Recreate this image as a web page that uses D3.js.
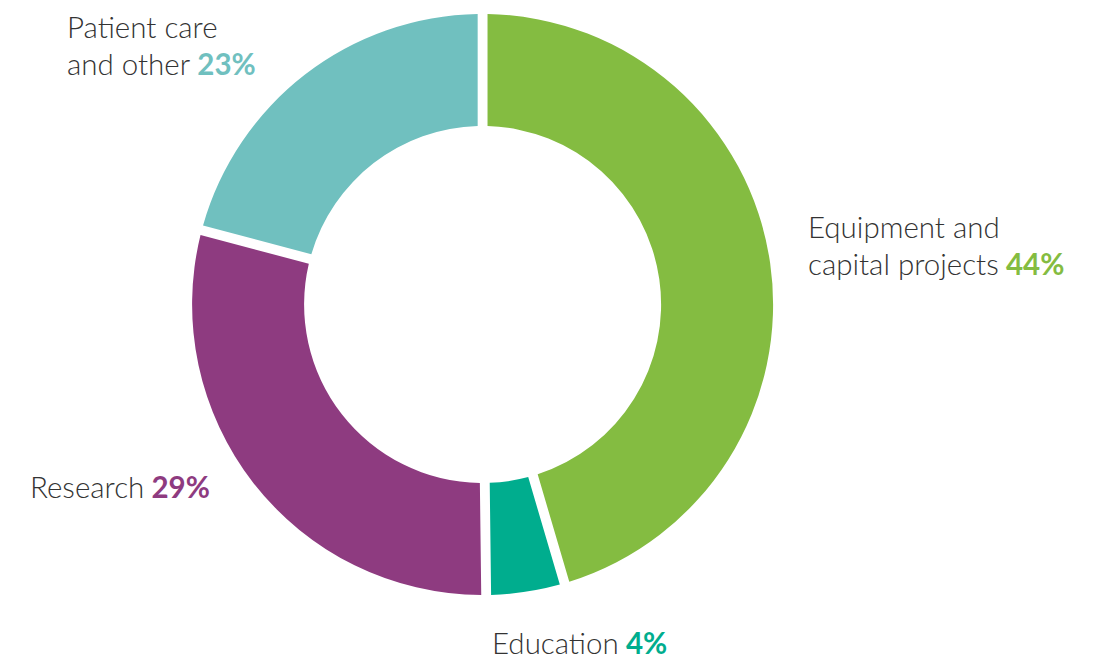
<!DOCTYPE html>
<html>
<head>
<meta charset="utf-8">
<script src="https://cdn.jsdelivr.net/npm/d3@7"></script>
<style>
  body { margin: 0; background: #fff; }
  text { font-family: "Lato", "Open Sans", sans-serif; }
</style>
</head>
<body>
<div id="chart"></div>
<script>
var categories = ["Equipment and capital projects", "Education", "Research", "Patient care and other"];
// percentages printed in the labels
var percents = [44, 4, 29, 23];
var sliceValues = [45.9, 3.9, 29.4, 20.8];
var colors = ["#84bc41", "#00ad8e", "#8e3b80", "#70c0bf"];
var labelLines = [
  ["Equipment and", "capital projects"],
  ["Education"],
  ["Research"],
  ["Patient care", "and other"]
];
var labelPos = [[808, 238], [492, 654], [30, 498], [67, 38]];

var width = 1109, height = 659;
var cx = 482.6, cy = 304.5;
var outerR = 290.5, innerR = 178.5;

var svg = d3.select("#chart").append("svg")
    .attr("width", width)
    .attr("height", height);

var pie = d3.pie().sort(null).padAngle(0.034);
var arc = d3.arc().innerRadius(innerR).outerRadius(outerR).padRadius(290);

var g = svg.append("g").attr("transform", "translate(" + cx + "," + cy + ")");
g.selectAll("path")
    .data(pie(sliceValues))
    .enter().append("path")
    .attr("d", arc)
    .attr("fill", function(d, i) { return colors[i]; });

var lineH = 37;
labelLines.forEach(function(lines, i) {
  var t = svg.append("text")
      .attr("x", labelPos[i][0])
      .attr("y", labelPos[i][1])
      .attr("font-size", 29.5)
      .attr("font-weight", 300)
      .attr("fill", "#333");
  lines.forEach(function(l, j) {
    t.append("tspan")
        .attr("x", labelPos[i][0])
        .attr("dy", j == 0 ? 0 : lineH)
        .text(l);
    if (j == lines.length - 1) {
      t.append("tspan")
          .attr("font-weight", 700)
          .attr("fill", colors[i])
          .text(" " + percents[i] + "%");
    }
  });
});
</script>
</body>
</html>
